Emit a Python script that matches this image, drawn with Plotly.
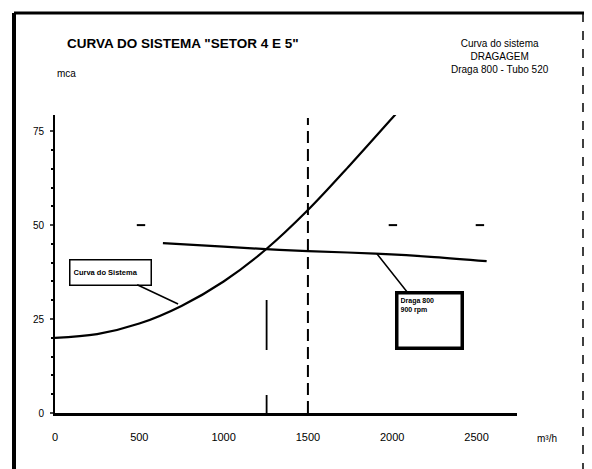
import plotly.graph_objects as go

# ---- data ----
q_sistema = [0, 250, 500, 750, 1000, 1250, 1500, 1750, 2000, 2020]
h_sistema = [20, 21, 23.8, 28.5, 35, 43.5, 54, 66, 78.5, 79.5]

q_draga = [640, 1000, 1250, 1500, 1900, 2250, 2560]
h_draga = [45.2, 44.3, 43.6, 43.1, 42.4, 41.5, 40.4]

q_marcas = [510, 2004, 2520]
h_marcas = [50, 50, 50]

q_projeto = 1500
h_projeto_topo = 78.5
q_operacao = 1255
h_operacao_topo = 31.4

x_ticks = [0, 500, 1000, 1500, 2000, 2500]
x_labels = ["0", "500", "1000", "1500", "2000", "2500"]
y_ticks = [0, 25, 50, 75]
y_labels = ["0", "25", "50", "75"]

FONT = "Liberation Sans, Arial, sans-serif"

fig = go.Figure()
fig.add_trace(go.Scatter(x=q_sistema, y=h_sistema, mode="lines",
                         line=dict(color="black", width=2.2, shape="spline"),
                         name="Curva do Sistema"))
fig.add_trace(go.Scatter(x=q_draga, y=h_draga, mode="lines",
                         line=dict(color="black", width=2.2, shape="spline"),
                         name="Draga 800"))
fig.add_trace(go.Scatter(x=q_marcas, y=h_marcas, mode="markers",
                         marker=dict(symbol="line-ew", size=6,
                                     line=dict(color="black", width=2)),
                         name="marcas"))
fig.add_trace(go.Scatter(x=[q_projeto, q_projeto], y=[0, h_projeto_topo], mode="lines",
                         line=dict(color="black", width=2, dash="12px,6px"),
                         name="projeto"))
fig.add_trace(go.Scatter(x=[q_operacao, q_operacao], y=[0, h_operacao_topo], mode="lines",
                         line=dict(color="black", width=1.8, dash="18px,45px,50px,20px"),
                         name="operacao"))

fig.update_layout(
    width=584, height=461,
    margin=dict(l=47, r=75, t=107, b=56),
    paper_bgcolor="white", plot_bgcolor="white",
    showlegend=False,
    font=dict(family=FONT, color="black", size=10),
    xaxis=dict(range=[0, 2740], tickvals=x_ticks, ticktext=x_labels,
               showgrid=False, zeroline=False, showline=True,
               linecolor="black", linewidth=2.5, ticks="",
               ticklabelstandoff=12, tickfont=dict(size=11, family=FONT)),
    yaxis=dict(range=[0, 79.3], tickvals=y_ticks, ticktext=y_labels,
               showgrid=False, zeroline=False, showline=True,
               linecolor="black", linewidth=2, ticks="outside", ticklen=3,
               tickwidth=1.5, ticklabelstandoff=4,
               minor=dict(ticks="outside", ticklen=2, dtick=5, tickcolor="black"),
               tickfont=dict(size=10, family=FONT)),
)

fig.add_annotation(xref="paper", yref="paper", x=0.0, y=1.0 + 41/298,
                   text="mca", showarrow=False, xanchor="left", yanchor="middle",
                   font=dict(size=10, family=FONT))
fig.add_annotation(xref="paper", yref="paper", x=(547 - 55) / 462, y=-25/298,
                   text="m³/h", showarrow=False, xanchor="center", yanchor="middle",
                   font=dict(size=10, family=FONT))
fig.add_annotation(xref="paper", yref="paper", x=(65 - 55) / 462, y=1.0 + 71/298,
                   text='<b>CURVA DO SISTEMA "SETOR 4 E 5"</b>', showarrow=False,
                   xanchor="left", yanchor="middle", font=dict(size=13.5, family=FONT))
fig.add_annotation(xref="paper", yref="paper", x=(500 - 55) / 462, y=1.0 + 58/298,
                   text="Curva do sistema<br>DRAGAGEM<br>Draga 800 - Tubo 520",
                   showarrow=False, xanchor="center", yanchor="middle",
                   align="center", font=dict(size=10, family=FONT))

fig.add_annotation(x=730, y=29, xref="x", yref="y", text="<b>Curva do Sistema</b>",
                   showarrow=True, arrowhead=0, arrowwidth=1.5, arrowcolor="black",
                   ax=-68, ay=-32, bordercolor="black", borderwidth=1.5,
                   borderpad=3, bgcolor="white", width=74, height=18,
                   font=dict(size=7.5, family=FONT), align="left")
fig.add_annotation(x=1909, y=42.4, xref="x", yref="y", text="<b>Draga 800<br>900 rpm</b>",
                   showarrow=True, arrowhead=0, arrowwidth=1.5, arrowcolor="black",
                   ax=53, ay=67, bordercolor="black", borderwidth=3.5,
                   borderpad=2, bgcolor="white", width=58, height=48,
                   align="left", valign="top", font=dict(size=7, family=FONT))

# page frame
fig.add_shape(type="line", xref="paper", yref="paper",
              x0=(14 - 55) / 462, x1=(14 - 55) / 462, y0=1 + 102/298, y1=-60/298,
              line=dict(color="black", width=4))
fig.add_shape(type="line", xref="paper", yref="paper",
              x0=(14 - 55) / 462, x1=(584 - 55) / 462, y0=1 + 102/298, y1=1 + 102/298,
              line=dict(color="black", width=3))
fig.add_shape(type="line", xref="paper", yref="paper",
              x0=(583 - 55) / 462, x1=(583 - 55) / 462, y0=1 + 102/298, y1=-60/298,
              line=dict(color="black", width=1.5, dash="dash"))

fig.write_html("out.html")
